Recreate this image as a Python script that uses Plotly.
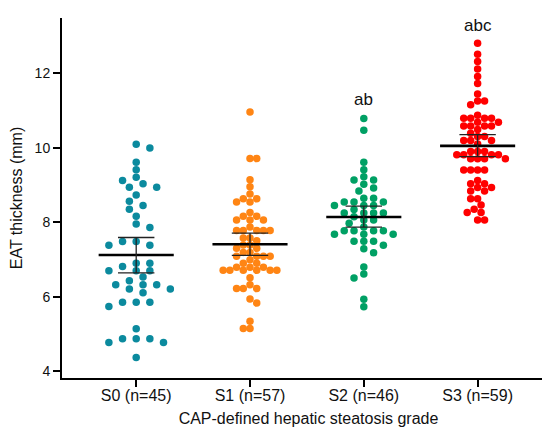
import numpy as np
import plotly.graph_objects as go

# values (mm)
groups = ["S0 (n=45)", "S1 (n=57)", "S2 (n=46)", "S3 (n=59)"]
colors = ["#0b8a9e", "#ff8514", "#00a064", "#ff0000"]

s0 = [10.09, 9.99, 9.61, 9.41, 9.21, 9.12, 9.03, 8.94, 8.94, 8.73, 8.56, 8.45, 8.35,
      8.16, 7.95, 7.86, 7.48, 7.48, 7.38, 7.38, 6.90, 6.90, 6.81, 6.70, 6.70, 6.70,
      6.53, 6.43, 6.32, 6.32, 6.32, 6.21, 6.21, 6.11, 5.85, 5.85, 5.85, 5.74, 5.14,
      4.87, 4.87, 4.87, 4.77, 4.77, 4.37]
s1 = [10.96, 9.71, 9.71, 9.14, 8.95, 8.76, 8.63, 8.63, 8.54, 8.54, 8.26, 8.16, 8.16,
      8.06, 8.06, 8.06, 7.87, 7.78, 7.78, 7.78, 7.78, 7.78, 7.58, 7.58, 7.50, 7.39,
      7.39, 7.30, 7.30, 7.19, 7.19, 7.09, 7.09, 7.09, 7.09, 6.99, 6.90, 6.90, 6.79,
      6.79, 6.79, 6.71, 6.71, 6.71, 6.71, 6.71, 6.71, 6.51, 6.32, 6.22, 6.22, 6.22,
      5.94, 5.83, 5.34, 5.15, 5.15]
s2 = [10.78, 10.47, 9.61, 9.41, 9.22, 9.13, 9.13, 9.02, 8.92, 8.84, 8.64, 8.64, 8.54,
      8.54, 8.54, 8.45, 8.45, 8.45, 8.34, 8.25, 8.25, 8.25, 8.25, 8.15, 8.06, 8.06,
      7.97, 7.87, 7.77, 7.77, 7.77, 7.77, 7.68, 7.68, 7.68, 7.49, 7.49, 7.49, 7.38,
      7.29, 7.18, 6.80, 6.61, 6.50, 5.93, 5.73]
s3 = [12.80, 12.51, 12.31, 12.11, 11.91, 11.72, 11.44, 11.25, 11.25, 11.15, 10.87,
      10.79, 10.79, 10.79, 10.79, 10.68, 10.68, 10.58, 10.58, 10.58, 10.58, 10.49,
      10.39, 10.30, 10.30, 10.19, 10.19, 10.19, 10.10, 9.90, 9.90, 9.90, 9.81, 9.81,
      9.81, 9.81, 9.70, 9.70, 9.70, 9.70, 9.40, 9.40, 9.40, 9.40, 9.12, 9.03, 9.03,
      8.93, 8.93, 8.84, 8.84, 8.63, 8.63, 8.46, 8.35, 8.26, 8.26, 8.06, 8.06]

means = [7.12, 7.41, 8.14, 10.05]
ci_low = [6.64, 7.11, 7.87, 9.76]
ci_high = [7.59, 7.71, 8.43, 10.35]

letters = ["", "", "ab", "abc"]
letter_y = [None, None, 11.3, 13.28]

# horizontal spacing of the swarm per group (category units)
steps = [0.120, 0.059, 0.086, 0.061]
DOT = 0.188  # dot height in y units


def swarm(vals, step):
    vals = np.asarray(vals, dtype=float)
    order = np.argsort(-vals, kind="stable")
    placed = []
    offs = np.zeros(len(vals))
    for idx in order:
        y = vals[idx]
        left = sum(1 for px, _ in placed if px < 0)
        right = sum(1 for px, _ in placed if px > 0)
        found = None
        for k in range(0, 60):
            if k == 0:
                cands = [0.0]
            elif left < right:
                cands = [-k * 0.5, k * 0.5]
            else:
                cands = [k * 0.5, -k * 0.5]
            for c in cands:
                ok = True
                for px, py in placed:
                    if (c - px) ** 2 + ((y - py) / DOT) ** 2 < 0.98:
                        ok = False
                        break
                if ok:
                    found = c
                    break
            if found is not None:
                break
        placed.append((found, y))
        offs[idx] = found * step
    return offs


fig = go.Figure()
for i, vals in enumerate([s0, s1, s2, s3]):
    x = i + swarm(vals, steps[i])
    fig.add_trace(go.Scatter(
        x=x, y=vals, mode="markers",
        marker=dict(color=colors[i], size=7.5, line=dict(width=0)),
        showlegend=False, hoverinfo="y"
    ))

# mean and 95% CI bars
for i in range(4):
    fig.add_trace(go.Scatter(
        x=[i - 0.33, i + 0.33], y=[means[i], means[i]], mode="lines",
        line=dict(color="black", width=2.6), showlegend=False, hoverinfo="skip"
    ))
    fig.add_trace(go.Scatter(
        x=[i - 0.16, i + 0.16, None, i, i, None, i - 0.16, i + 0.16],
        y=[ci_high[i], ci_high[i], None, ci_high[i], ci_low[i], None, ci_low[i], ci_low[i]],
        mode="lines", line=dict(color="#222222", width=1.3),
        showlegend=False, hoverinfo="skip"
    ))

for i in range(4):
    if letters[i]:
        fig.add_annotation(x=i, y=letter_y[i], text=letters[i], showarrow=False,
                           font=dict(size=17, color="#111111"))

fig.update_layout(
    width=550, height=431,
    margin=dict(l=54, r=3, t=10, b=61),
    plot_bgcolor="white", paper_bgcolor="white",
    font=dict(family="Liberation Sans, Arial, sans-serif", color="#111111"),
    xaxis=dict(
        range=[-0.652, 3.68], tickvals=[0, 1, 2, 3], ticktext=groups,
        showline=True, linecolor="black", linewidth=2, ticks="outside",
        ticklen=7, tickwidth=2, tickcolor="black", showgrid=False, zeroline=False,
        tickfont=dict(size=16), automargin=False, ticklabelstandoff=-5,
        title=dict(text="CAP-defined hepatic steatosis grade", font=dict(size=16), standoff=10)
    ),
    yaxis=dict(
        range=[3.82, 13.48], tickvals=[4, 6, 8, 10, 12],
        showline=True, linecolor="black", linewidth=2, ticks="outside",
        ticklen=7, tickwidth=2, tickcolor="black", showgrid=False, zeroline=False,
        tickfont=dict(size=14), automargin=False,
        title=dict(text="EAT thickness (mm)", font=dict(size=16), standoff=11)
    ),
)

fig.write_html("out.html")
